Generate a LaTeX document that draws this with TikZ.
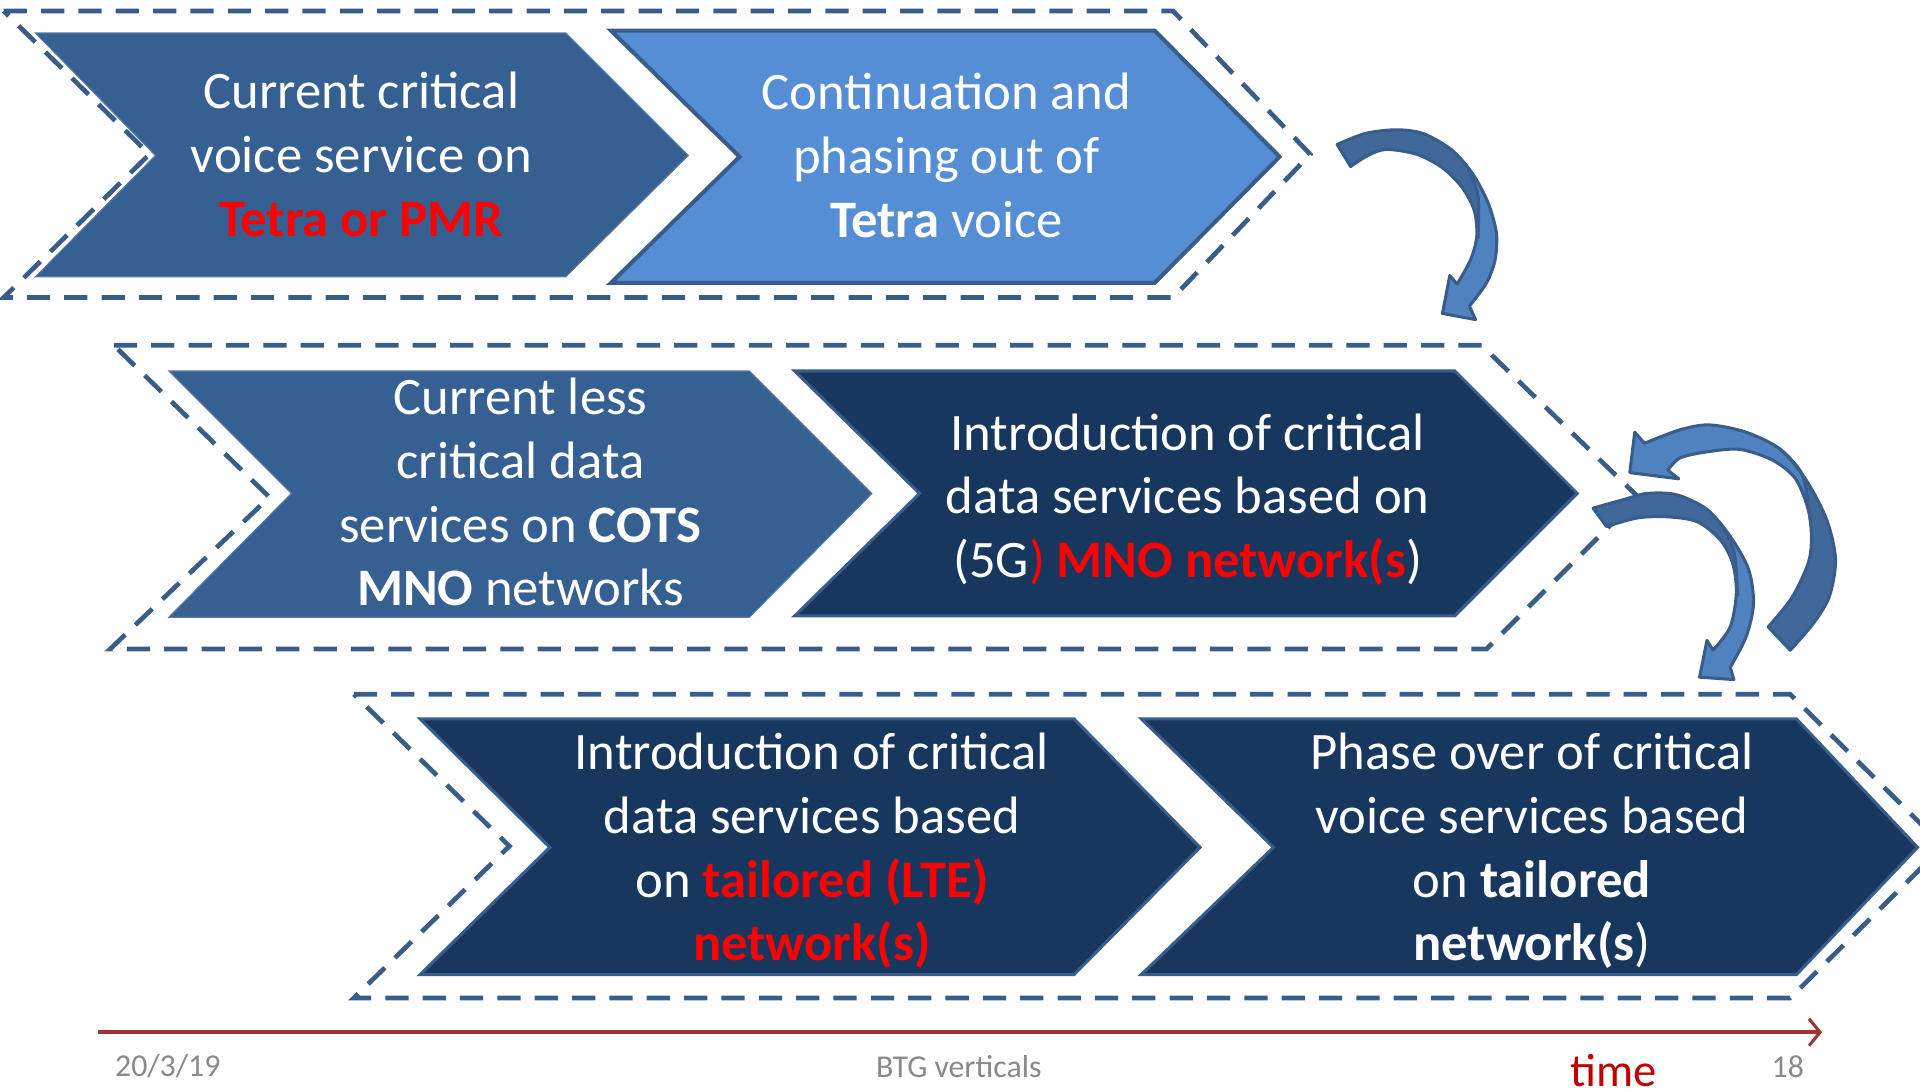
\documentclass[tikz,border=0pt]{standalone}
\usepackage{fontspec}
\setmainfont{Carlito}
\usetikzlibrary{arrows.meta}

\definecolor{frameblue}{RGB}{56,93,138}
\definecolor{midblue}{RGB}{55,96,146}
\definecolor{lightblue}{RGB}{85,142,213}
\definecolor{navy}{RGB}{23,55,94}
\definecolor{arrowdark}{RGB}{64,104,154}
\definecolor{arrowlight}{RGB}{80,130,192}
\definecolor{axisred}{RGB}{153,55,53}
\definecolor{timered}{RGB}{192,0,0}
\definecolor{footgray}{RGB}{137,137,137}

\newcommand{\redbold}[1]{\textcolor{red}{\bfseries #1}}

\begin{document}
\begin{tikzpicture}[x=1pt,y=-1pt,
		phase/.style={draw=frameblue, line width=3.8pt, dash pattern=on 19pt off 11.5pt, line join=miter},
		stagemid/.style={fill=midblue, draw=midblue!85!white, line width=1pt, line join=miter},
		stagelight/.style={fill=lightblue, draw=frameblue, line width=3.3pt, line join=miter},
		stagenavy/.style={fill=navy, draw=frameblue, line width=2.5pt, line join=miter},
		stagetext/.style={text=white, align=center, inner sep=0pt, font=\fontsize{43}{52}\selectfont},
		bendarrow/.style={draw=frameblue, line width=2.5pt, line join=round},
		foot/.style={text=footgray, inner sep=0pt, font=\fontsize{26}{30}\selectfont}]
	\useasboundingbox (0,0) rectangle (1568,891);

	% Draw the dashed frames of the three rows
	\draw[phase] (3,9) -- (958,9) -- (1070,126) -- (958,243) -- (3,243) -- (122,126) -- cycle;
	\draw[phase] (93,282) -- (1210,282) -- (1338,406) -- (1214,530) -- (90,530) -- (220,406) -- cycle;
	\draw[phase] (289,567) -- (1462,567) -- (1587,691) -- (1462,815) -- (289,815) -- (416,691) -- cycle;

	% Draw the chevrons of the first row
	\filldraw[stagemid] (29,27) -- (462,27) -- (562,127) -- (462,226) -- (29,226) -- (127,127) -- cycle;
	\filldraw[stagelight] (499,25) -- (943,25) -- (1045,128) -- (943,231) -- (499,231) -- (604,128) -- cycle;
	\node[stagetext] (t1) at (295,126) {Current critical\\voice service on\\\redbold{Tetra or PMR}};
	\node[stagetext] (t2) at (773,127) {Continuation and\\phasing out of\\\textbf{Tetra} voice};

	% Draw the chevrons of the second row
	\filldraw[stagemid] (138,303) -- (612,303) -- (712,403) -- (612,504) -- (138,504) -- (238,403) -- cycle;
	\filldraw[stagenavy] (649,303) -- (1188,303) -- (1288,403) -- (1188,503) -- (649,503) -- (751,403) -- cycle;
	\node[stagetext] (t3) at (425,402) {Current less\\critical data\\services on \textbf{COTS}\\\textbf{MNO} networks};
	\node[stagetext] (t4) at (970,408) {Introduction of critical\\data services based on\\(5G\textcolor{red}{) \textbf{MNO network(s}})};

	% Draw the chevrons of the third row
	\filldraw[stagenavy] (343,587) -- (877,587) -- (980,692) -- (877,796) -- (343,796) -- (449,692) -- cycle;
	\filldraw[stagenavy] (932,587) -- (1467,587) -- (1566,692) -- (1467,796) -- (932,796) -- (1040,692) -- cycle;
	\node[stagetext] (t5) at (663,695) {Introduction of critical\\data services based\\on \redbold{tailored (LTE)}\\\redbold{network(s)}};
	\node[stagetext] (t6) at (1251,695) {Phase over of critical\\voice services based\\on \textbf{tailored}\\\textbf{network(s})};

	% Curved arrow from the first row down to the second row
	\fill[arrowlight] plot[smooth] coordinates {(1092,118) (1115,109) (1140,106) (1162,109) (1185,122) (1202,141) (1215,165) (1222,190) (1221,212) (1214,231) (1200,250)}
		-- (1205,261) -- (1178,256) -- (1184,225) -- plot[smooth] coordinates {(1190,232) (1201,212) (1206,193) (1204,172) (1194,153) (1178,137) (1157,126) (1132,122) (1117,127) (1103,136)} -- cycle;
	\fill[arrowdark] plot[smooth] coordinates {(1092,118) (1115,109) (1140,106) (1162,109) (1185,122) (1199,137)}
		-- plot[smooth] coordinates {(1199,137) (1207,160) (1207,195)} -- plot[smooth] coordinates {(1206,193) (1204,172) (1194,153) (1178,137) (1157,126) (1132,122) (1117,127) (1103,136)} -- cycle;
	\draw[bendarrow] plot[smooth] coordinates {(1199,137) (1207,160) (1207,195)};
	\draw[bendarrow] plot[smooth] coordinates {(1092,118) (1115,109) (1140,106) (1162,109) (1185,122) (1202,141) (1215,165) (1222,190) (1221,212) (1214,231) (1200,250)}
		-- (1205,261) -- (1178,256) -- (1184,225) -- plot[smooth] coordinates {(1190,232) (1201,212) (1206,193) (1204,172) (1194,153) (1178,137) (1157,126) (1132,122) (1117,127) (1103,136)} -- cycle;

	% Curved arrow from the third row back up to the second row
	\fill[arrowlight] plot[smooth] coordinates {(1462,531) (1481,509) (1494,487) (1499,457) (1492,425) (1475,392) (1454,367) (1426,353) (1396,347) (1372,351) (1343,362)}
		-- (1335,353) -- (1331,386) -- (1371,391) -- plot[smooth] coordinates {(1362,384) (1372,374) (1394,369) (1421,367) (1448,376) (1467,392) (1478,422) (1478,455) (1464,487) (1444,512)} -- cycle;
	\fill[arrowdark] plot[smooth] coordinates {(1462,531) (1481,509) (1494,487) (1499,457) (1492,425) (1475,392) (1454,367)}
		-- plot[smooth] coordinates {(1454,367) (1472,388) (1479,430)} -- plot[smooth] coordinates {(1478,430) (1478,455) (1464,487) (1444,512)} -- cycle;
	\draw[bendarrow] plot[smooth] coordinates {(1454,367) (1472,388) (1479,430)};
	\draw[bendarrow] plot[smooth] coordinates {(1462,531) (1481,509) (1494,487) (1499,457) (1492,425) (1475,392) (1454,367) (1426,353) (1396,347) (1372,351) (1343,362)}
		-- (1335,353) -- (1331,386) -- (1371,391) -- plot[smooth] coordinates {(1362,384) (1372,374) (1394,369) (1421,367) (1448,376) (1467,392) (1478,422) (1478,455) (1464,487) (1444,512)} -- cycle;

	% Curved arrow from the second row down to the third row
	\fill[arrowlight] plot[smooth] coordinates {(1301,415) (1326,408) (1345,403) (1369,404) (1394,416) (1413,438) (1428,465) (1432,493) (1426,520) (1413,545)}
		-- (1416,555) -- (1388,553) -- (1394,523) -- plot[smooth] coordinates {(1399,531) (1413,512) (1418,484) (1415,460) (1405,441) (1386,426) (1361,422) (1337,423) (1312,430)} -- cycle;
	\fill[arrowdark] plot[smooth] coordinates {(1301,415) (1326,408) (1345,403) (1369,404) (1394,416) (1404,426)}
		-- plot[smooth] coordinates {(1404,426) (1416,450) (1419,487)} -- plot[smooth] coordinates {(1418,484) (1415,460) (1405,441) (1386,426) (1361,422) (1337,423) (1312,430)} -- cycle;
	\draw[bendarrow] plot[smooth] coordinates {(1404,426) (1416,450) (1419,487)};
	\draw[bendarrow] plot[smooth] coordinates {(1301,415) (1326,408) (1345,403) (1369,404) (1394,416) (1413,438) (1428,465) (1432,493) (1426,520) (1413,545)}
		-- (1416,555) -- (1388,553) -- (1394,523) -- plot[smooth] coordinates {(1399,531) (1413,512) (1418,484) (1415,460) (1405,441) (1386,426) (1361,422) (1337,423) (1312,430)} -- cycle;

	% Time axis and footer
	\coordinate (start) at (80,843);
	\coordinate (end) at (1488,843);
	\draw[axisred, line width=3.5pt, -{Straight Barb[length=9pt, width=22pt, line width=2.5pt]}] (start) -- (end);
	\node[foot] (date) at (137,871) {20/3/19};
	\node[foot] (title) at (783,871) {BTG verticals};
	\node[foot] (page) at (1460,871) {18};
	\node[text=timered, inner sep=0pt, font=\fontsize{38}{44}\selectfont] (time) at (1318,874) {time};
\end{tikzpicture}
\end{document}
